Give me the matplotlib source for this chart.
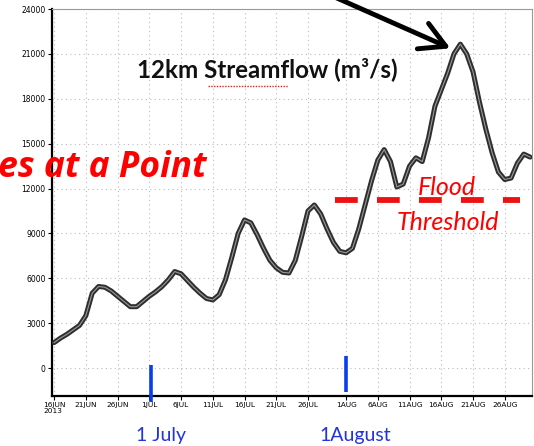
import matplotlib
matplotlib.use("Agg")
import matplotlib.pyplot as plt
from matplotlib.lines import Line2D
import pandas as pd

# 12km streamflow, one value per day from 16 Jun 2013
start_date = "2013-06-16"
flow = [1700, 2000, 2250, 2550, 2850, 3500, 5000, 5450, 5400, 5150,
        4800, 4450, 4100, 4100, 4450, 4800, 5100, 5450, 5900, 6450,
        6300, 5850, 5400, 5000, 4650, 4550, 4900, 5900, 7400, 9000,
        9900, 9700, 8900, 8000, 7200, 6700, 6400, 6350, 7200, 8800,
        10500, 10900, 10300, 9300, 8400, 7800, 7700, 8000, 9300, 10900,
        12500, 13900, 14600, 13800, 12100, 12300, 13500, 14050, 13800, 15400,
        17500, 18600, 19700, 21000, 21650, 21000, 19800, 17800, 16000, 14400,
        13100, 12600, 12700, 13700, 14300, 14100]

tick_dates = ["2013-06-16", "2013-06-21", "2013-06-26", "2013-07-01", "2013-07-06",
              "2013-07-11", "2013-07-16", "2013-07-21", "2013-07-26", "2013-08-01",
              "2013-08-06", "2013-08-11", "2013-08-16", "2013-08-21", "2013-08-26"]
tick_labels = ["16JUN\n2013", "21JUN", "26JUN", "1JUL", "6JUL", "11JUL", "16JUL",
               "21JUL", "26JUL", "1AUG", "6AUG", "11AUG", "16AUG", "21AUG", "26AUG"]
y_ticks = [0, 3000, 6000, 9000, 12000, 15000, 18000, 21000, 24000]

flood_threshold = 11200
threshold_span = ["2013-07-30 06:00", "2013-08-28 10:00"]
marker_dates = ["2013-07-01 08:00", "2013-08-01"]
marker_names = ["1 July", "1August"]
peak_point = ("2013-08-17 20:00", 21300)

dates = pd.date_range(start_date, periods=len(flow), freq="D")

W, H = 534, 446
fig = plt.figure(figsize=(W / 100, H / 100), dpi=100)
ax = fig.add_axes([52 / W, (H - 396) / H, 480 / W, 387 / H])


def px(x, y):
    return x / W, (H - y) / H


ax.plot(dates, flow, color="#2e2e2e", lw=3.6, solid_capstyle="round",
        solid_joinstyle="round", zorder=3)
ax.plot(dates, flow, color="#9a9a9a", lw=0.8, solid_joinstyle="round", zorder=4)

ax.set_xlim(pd.Timestamp("2013-06-15 16:00"), pd.Timestamp("2013-08-30 07:00"))
ax.set_ylim(-1870, 24000)
ax.set_xticks(pd.to_datetime(tick_dates))
ax.set_xticklabels(tick_labels, fontsize=5.3, linespacing=0.9)
ax.get_xticklabels()[0].set_multialignment("left")
ax.set_yticks(y_ticks)
ax.set_yticklabels([str(v) for v in y_ticks], fontsize=5.5)
ax.tick_params(length=3, width=0.8, pad=1.5)

ax.grid(True, color="#bbbbbb", linestyle=(0, (1, 3)), lw=0.8)
for side in ["left", "bottom"]:
    ax.spines[side].set_linewidth(1.6)
for side in ["top", "right"]:
    ax.spines[side].set_linewidth(0.8)
    ax.spines[side].set_color("#999999")

# flood threshold
ax.hlines(flood_threshold, pd.Timestamp(threshold_span[0]), pd.Timestamp(threshold_span[1]),
          color="#ee1111", lw=4.2, linestyles=(0, (3.9, 3.3)), zorder=5)
fig.text(*px(447, 195), "Flood", color="red", fontsize=18, style="italic",
         family="Lato", ha="center", va="baseline")
fig.text(*px(448, 230), "Threshold", color="red", fontsize=18, style="italic",
         family="Lato", ha="center", va="baseline")

# blue markers for 1 July / 1 August
ax.vlines(pd.Timestamp(marker_dates[0]), -2270, 200, color="#0a3cf0", lw=2.6,
          clip_on=False, zorder=6)
ax.vlines(pd.Timestamp(marker_dates[1]), -1600, 800, color="#0a3cf0", lw=2.6,
          clip_on=False, zorder=6)
fig.text(*px(161, 441), marker_names[0], color="#2233dd", fontsize=14, family="Lato",
         ha="center", va="baseline")
fig.text(*px(355, 441), marker_names[1], color="#2233dd", fontsize=14, family="Lato",
         ha="center", va="baseline")

# slide overlay text
fig.text(*px(137, 77), "12km Streamflow (m\u00b3/s)", fontsize=17.4, weight="bold",
         family="Lato", ha="left", va="baseline", color="#111111")
fig.add_artist(Line2D([208 / W, 288 / W], [(H - 86) / H] * 2, color="#dd2222", lw=1.0,
                      linestyle=(0, (1, 1))))
fig.text(*px(207, 177), "Time Series at a Point", fontsize=25.5, weight="bold",
         style="italic", family="Open Sans", color="red", ha="right", va="baseline")

ax.annotate("", xy=(pd.Timestamp(peak_point[0]), peak_point[1]),
            xytext=(330 / W, (H + 5) / H), textcoords="figure fraction",
            arrowprops=dict(arrowstyle="->,head_length=0.9,head_width=0.5",
                            lw=3.5, color="black", mutation_scale=20),
            annotation_clip=False)

fig.savefig("out.png", dpi=100)
